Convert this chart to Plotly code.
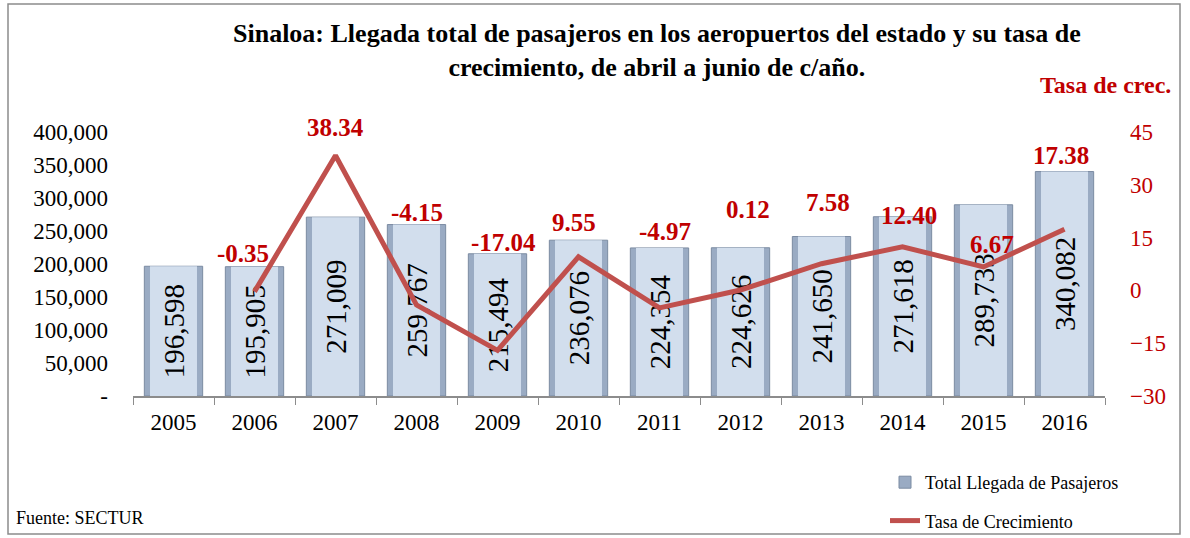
import plotly.graph_objects as go

years = ["2005", "2006", "2007", "2008", "2009", "2010", "2011", "2012", "2013", "2014", "2015", "2016"]
passengers = [196598, 195905, 271009, 259767, 215494, 236076, 224354, 224626, 241650, 271618, 289733, 340082]
rate_years = years[1:]
rates = [-0.35, 38.34, -4.15, -17.04, 9.55, -4.97, 0.12, 7.58, 12.40, 6.67, 17.38]
rate_labels = ["-0.35", "38.34", "-4.15", "-17.04", "9.55", "-4.97", "0.12", "7.58", "12.40", "6.67", "17.38"]

left_tickvals = [0, 50000, 100000, 150000, 200000, 250000, 300000, 350000, 400000]
left_ticktext = ["-", "50,000", "100,000", "150,000", "200,000", "250,000", "300,000", "350,000", "400,000"]
right_tickvals = [-30, -15, 0, 15, 30, 45]

# label offsets (pixels) for rate labels: (xshift, yshift)
label_shifts = [(-12, 38), (0, 28), (0, 93), (6, 108), (-5, 34), (5, 76), (7, 80), (6, 61), (6, 31), (8, 22), (-4, 74)]

FONT = "Liberation Serif"
RED = "#c00000"

fig = go.Figure()

fig.add_trace(go.Bar(
    x=years, y=passengers, name="Total Llegada de Pasajeros",
    marker=dict(color="#9aabc3", line=dict(color="#7b8ba2", width=1)),
    width=0.72, showlegend=True, hoverinfo="skip", legendgroup="a",
))
fig.add_trace(go.Bar(
    x=years, y=passengers, name="inner",
    marker=dict(color="#d2deed", line=dict(width=0)),
    width=0.58, showlegend=False, legendgroup="a",
    text=[f"{v:,}" for v in passengers], textposition="inside",
    insidetextanchor="middle", textangle=-90,
    textfont=dict(family=FONT, size=29, color="black"),
    constraintext="none",
))
fig.add_trace(go.Scatter(
    x=rate_years, y=rates, yaxis="y2", mode="lines", name="Tasa de Crecimiento",
    line=dict(color="#c0504d", width=5), legendgroup="b",
))

for yr, r, lab, (dx, dy) in zip(rate_years, rates, rate_labels, label_shifts):
    fig.add_annotation(x=years.index(yr), y=r, yref="y2", text=f"<b>{lab}</b>", showarrow=False,
                       xshift=dx, yshift=dy, xanchor="center", yanchor="middle",
                       font=dict(family=FONT, size=25, color=RED))

# outer frame
fig.add_shape(type="rect", xref="paper", yref="paper",
              x0=(8 - 133) / 972, x1=(1180 - 133) / 972,
              y0=(396 - 534) / 264, y1=(396 - 4) / 264,
              line=dict(color="#8c8c8c", width=1.5), fillcolor="rgba(0,0,0,0)", layer="below")

fig.add_annotation(xref="paper", yref="paper", x=(657 - 133) / 972, y=(396 - 50) / 264,
                   xanchor="center", yanchor="middle",
                   text="<b>Sinaloa: Llegada total de pasajeros en los aeropuertos del estado y su tasa de<br>crecimiento, de abril a junio de c/año.</b>",
                   showarrow=False, font=dict(family=FONT, size=26, color="black"), align="center")
fig.add_annotation(xref="paper", yref="paper", x=(1105 - 133) / 972, y=(396 - 85) / 264,
                   xanchor="center", yanchor="middle",
                   text="<b>Tasa de crec.</b>", showarrow=False,
                   font=dict(family=FONT, size=24, color=RED))
fig.add_annotation(xref="paper", yref="paper", x=(14 - 133) / 972, y=(396 - 518) / 264,
                   xanchor="left", yanchor="middle", text="Fuente: SECTUR", showarrow=False,
                   font=dict(family=FONT, size=18, color="black"))

fig.update_layout(
    width=1190, height=538,
    margin=dict(l=133, r=85, t=132, b=142, autoexpand=False),
    paper_bgcolor="white", plot_bgcolor="white",
    barmode="overlay",
    font=dict(family=FONT, size=22, color="black"),
    xaxis=dict(type="category", showline=True, linecolor="#8c8c8c", linewidth=1.5,
               ticks="outside", tickcolor="#8c8c8c", ticklen=7, tickson="boundaries",
               tickfont=dict(family=FONT, size=23), showgrid=False, tickangle=0,
               ticklabelstandoff=5),
    yaxis=dict(range=[0, 400000], tickvals=left_tickvals, ticktext=left_ticktext,
               showgrid=False, zeroline=False, showline=False, ticklabelstandoff=24,
               tickfont=dict(family=FONT, size=23)),
    yaxis2=dict(range=[-30, 45], tickvals=right_tickvals, overlaying="y", side="right",
                showgrid=False, zeroline=False, showline=False, ticklabelstandoff=24,
                tickfont=dict(family=FONT, size=23, color=RED)),
    legend=dict(x=(885 - 133) / 972, y=(396 - 464) / 264, xanchor="left", yanchor="top",
                font=dict(family=FONT, size=18), bgcolor="rgba(0,0,0,0)", tracegroupgap=12),
    showlegend=True,
)

fig.write_html("out.html", post_script="document.body.style.margin='0';",
               config={"displayModeBar": False})
